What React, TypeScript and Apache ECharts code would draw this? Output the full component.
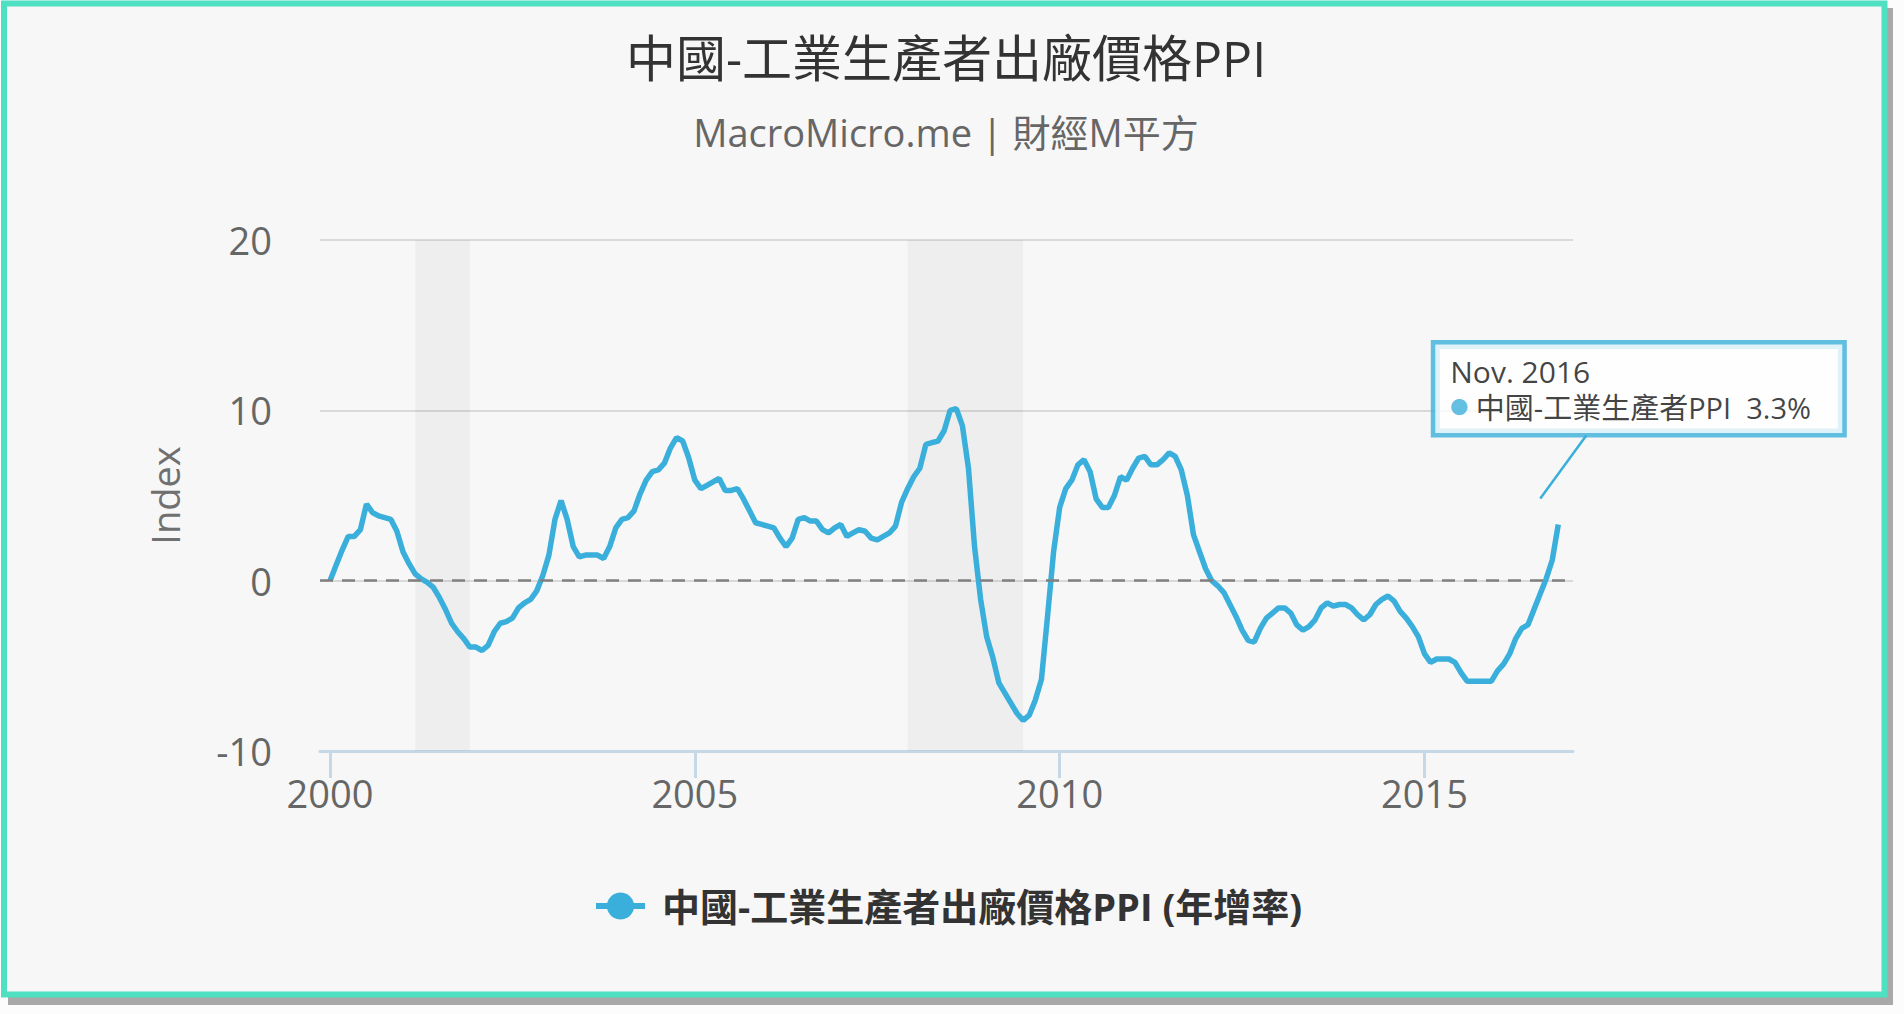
import React, { useEffect, useRef } from "react";
import * as echarts from "echarts";

// ---------- texts ----------
const TITLE = "中國-工業生產者出廠價格PPI";
const SUBTITLE = "MacroMicro.me | 財經M平方";
const SERIES_NAME = "中國-工業生產者出廠價格PPI (年增率)";
const TOOLTIP_NAME = "中國-工業生產者PPI";
const Y_AXIS_NAME = "Index";
const MONTH_ABBR = ["Jan.", "Feb.", "Mar.", "Apr.", "May", "Jun.", "Jul.", "Aug.", "Sep.", "Oct.", "Nov.", "Dec."];

// ---------- data: monthly YoY %, starting Jan 2000 ----------
const START_YEAR = 2000;
const ppi2000 = [0.0, 0.9, 1.8, 2.6, 2.6, 3.0, 4.5, 4.0, 3.8, 3.7, 3.6, 2.9];
const ppi2001 = [1.7, 1.0, 0.4, 0.1, -0.1, -0.4, -1.0, -1.7, -2.5, -3.0, -3.4, -3.9];
const ppi2002 = [-3.9, -4.1, -3.8, -3.0, -2.5, -2.4, -2.2, -1.6, -1.3, -1.1, -0.6, 0.3];
const ppi2003 = [1.5, 3.6, 4.7, 3.6, 2.0, 1.4, 1.5, 1.5, 1.5, 1.3, 2.0, 3.1];
const ppi2004 = [3.6, 3.7, 4.1, 5.1, 5.9, 6.4, 6.5, 6.9, 7.8, 8.4, 8.2, 7.2];
const ppi2005 = [5.9, 5.4, 5.6, 5.8, 6.0, 5.3, 5.3, 5.4, 4.8, 4.1, 3.4, 3.3];
const ppi2006 = [3.2, 3.1, 2.5, 2.0, 2.5, 3.6, 3.7, 3.5, 3.5, 3.0, 2.8, 3.1];
const ppi2007 = [3.3, 2.6, 2.8, 3.0, 2.9, 2.5, 2.4, 2.6, 2.8, 3.2, 4.6, 5.4];
const ppi2008 = [6.1, 6.6, 8.0, 8.1, 8.2, 8.8, 10.0, 10.1, 9.1, 6.6, 2.0, -1.1];
const ppi2009 = [-3.3, -4.5, -6.0, -6.6, -7.2, -7.8, -8.2, -7.9, -7.0, -5.8, -2.1, 1.7];
const ppi2010 = [4.3, 5.4, 5.9, 6.8, 7.1, 6.4, 4.8, 4.3, 4.3, 5.0, 6.1, 5.9];
const ppi2011 = [6.6, 7.2, 7.3, 6.8, 6.8, 7.1, 7.5, 7.3, 6.5, 5.0, 2.7, 1.7];
const ppi2012 = [0.7, 0.0, -0.3, -0.7, -1.4, -2.1, -2.9, -3.5, -3.6, -2.8, -2.2, -1.9];
const ppi2013 = [-1.6, -1.6, -1.9, -2.6, -2.9, -2.7, -2.3, -1.6, -1.3, -1.5, -1.4, -1.4];
const ppi2014 = [-1.6, -2.0, -2.3, -2.0, -1.4, -1.1, -0.9, -1.2, -1.8, -2.2, -2.7, -3.3];
const ppi2015 = [-4.3, -4.8, -4.6, -4.6, -4.6, -4.8, -5.4, -5.9, -5.9, -5.9, -5.9, -5.9];
const ppi2016 = [-5.3, -4.9, -4.3, -3.4, -2.8, -2.6, -1.7, -0.8, 0.1, 1.2, 3.3];

// recession bands (start month, first month after end)
const recessionStart = ["2001-03", "2007-12"];
const recessionEnd = ["2001-12", "2009-07"];

// axis ticks
const xTickYears = [2000, 2005, 2010, 2015];
const Y_MIN = -10;
const Y_MAX = 20;
const Y_STEP = 10;
const X_MIN = 1999.863;
const X_MAX = 2017.035;

// ---------- styles ----------
const FONT = "'Open Sans', 'Noto Sans CJK TC', sans-serif";
const BLUE = "#3aafdb";
const TEAL = "#4ee0c1";

const allValues = [
  ...ppi2000, ...ppi2001, ...ppi2002, ...ppi2003, ...ppi2004, ...ppi2005,
  ...ppi2006, ...ppi2007, ...ppi2008, ...ppi2009, ...ppi2010, ...ppi2011,
  ...ppi2012, ...ppi2013, ...ppi2014, ...ppi2015, ...ppi2016,
];
const points = allValues.map((v, i) => [START_YEAR + i / 12, v]);
const monthToYear = (s: string) => {
  const [y, m] = s.split("-").map(Number);
  return y + (m - 1) / 12;
};
const lastIndex = allValues.length - 1;
const lastPoint = points[lastIndex];
const lastYear = START_YEAR + Math.floor(lastIndex / 12);
const lastMonth = lastIndex % 12;
const calloutText =
  `{d|${MONTH_ABBR[lastMonth]} ${lastYear}}\n{dot|●}{t|\u00a0${TOOLTIP_NAME}\u00a0\u00a0${allValues[lastIndex].toFixed(1)}%}`;

const frameGraphics = [
  { id: "shadow", type: "rect", z: -3, shape: { x: 8, y: 8, width: 1885, height: 997 }, style: { fill: "#a9a9a9" } },
  { id: "frame", type: "rect", z: -2, shape: { x: 4, y: 3.5, width: 1880.5, height: 991 }, style: { fill: "#f7f7f7", stroke: TEAL, lineWidth: 6 } },
];

export default function App() {
  const ref = useRef<HTMLDivElement>(null);
  useEffect(() => {
    const el = ref.current;
    if (!el) return;
    const chart = echarts.init(el, null, { renderer: "svg" });
    const option: any = {
      animation: false,
      backgroundColor: "#fcfcfc",
      textStyle: { fontFamily: FONT },
      title: {
        text: TITLE,
        subtext: SUBTITLE,
        left: 946,
        textAlign: "center",
        top: 29,
        padding: 0,
        itemGap: 23,
        textStyle: { fontSize: 50, fontWeight: "normal", color: "#333", fontFamily: FONT, lineHeight: 58 },
        subtextStyle: { fontSize: 38, color: "#666", fontFamily: FONT, lineHeight: 44 },
      },
      legend: {
        data: [SERIES_NAME],
        left: 593,
        top: 884,
        padding: 0,
        itemWidth: 49,
        itemHeight: 34,
        lineStyle: { width: 6 },
        textStyle: { fontSize: 38, fontWeight: "bold", color: "#333", fontFamily: FONT, lineHeight: 44, padding: [0, 0, 0, 12] },
      },
      grid: { left: 320, right: 331, top: 240, bottom: 263, containLabel: false },
      xAxis: {
        type: "value",
        min: X_MIN,
        max: X_MAX,
        splitLine: { show: false },
        axisLine: { onZero: false, lineStyle: { color: "#c6d7e6", width: 3 } },
        axisTick: { show: true, customValues: xTickYears, length: 27, lineStyle: { color: "#c6d7e6", width: 3 } },
        axisLabel: {
          customValues: xTickYears,
          fontSize: 38,
          color: "#666",
          margin: 23,
          fontFamily: FONT,
          formatter: (v: number) => String(Math.round(v)),
        },
      },
      yAxis: {
        type: "value",
        min: Y_MIN,
        max: Y_MAX,
        interval: Y_STEP,
        name: Y_AXIS_NAME,
        nameLocation: "middle",
        nameGap: 136,
        nameTextStyle: { fontSize: 38, color: "#707070", fontFamily: FONT },
        axisLine: { show: false },
        axisTick: { show: false },
        axisLabel: { fontSize: 38, color: "#666", margin: 48, fontFamily: FONT },
        splitLine: { lineStyle: { color: "#d9d9d9", width: 2 } },
      },
      series: [
        {
          name: SERIES_NAME,
          type: "line",
          data: points,
          showSymbol: false,
          symbol: "circle",
          color: BLUE,
          lineStyle: { width: 5.5, color: BLUE },
          itemStyle: { color: BLUE },
          z: 3,
          markLine: {
            silent: true,
            symbol: "none",
            label: { show: false },
            lineStyle: { color: "#808080", type: [13, 9], width: 2.5 },
            data: [{ yAxis: 0 }],
          },
          markArea: {
            silent: true,
            itemStyle: { color: "rgba(0,0,0,0.035)" },
            data: recessionStart.map((s, k) => [{ xAxis: monthToYear(s) }, { xAxis: monthToYear(recessionEnd[k]) }]),
          },
        },
        {
          name: "callout",
          type: "scatter",
          data: [lastPoint],
          symbolSize: 0,
          silent: true,
          z: 20,
          label: {
            show: true,
            position: [-123, -180],
            align: "left",
            verticalAlign: "top",
            backgroundColor: "#ffffff",
            borderColor: BLUE,
            borderWidth: 4.5,
            padding: [9, 0, 7.5, 15],
            width: 392,
            fontSize: 29,
            fontFamily: FONT,
            color: "#111",
            formatter: () => calloutText,
            rich: {
              d: { fontSize: 30, lineHeight: 36, color: "#111", fontFamily: FONT },
              dot: { fontSize: 18, lineHeight: 36, color: BLUE, fontFamily: FONT },
              t: { fontSize: 29, lineHeight: 36, color: "#111", fontFamily: FONT },
            },
          },
        },
      ],
      graphic: { elements: frameGraphics },
    };
    chart.setOption(option);
    const p = chart.convertToPixel({ gridIndex: 0 }, lastPoint) as number[];
    chart.setOption({
      graphic: {
        elements: [
          ...frameGraphics,
          {
            id: "connector",
            type: "line",
            z: 25,
            shape: { x1: p[0] + 28, y1: p[1] - 89, x2: p[0] - 18, y2: p[1] - 26 },
            style: { stroke: BLUE, lineWidth: 2.5 },
          },
        ],
      },
    });
    return () => chart.dispose();
  }, []);
  return <div ref={ref} style={{ position: "fixed", left: 0, top: 0, width: 1904, height: 1014 }} />;
}
